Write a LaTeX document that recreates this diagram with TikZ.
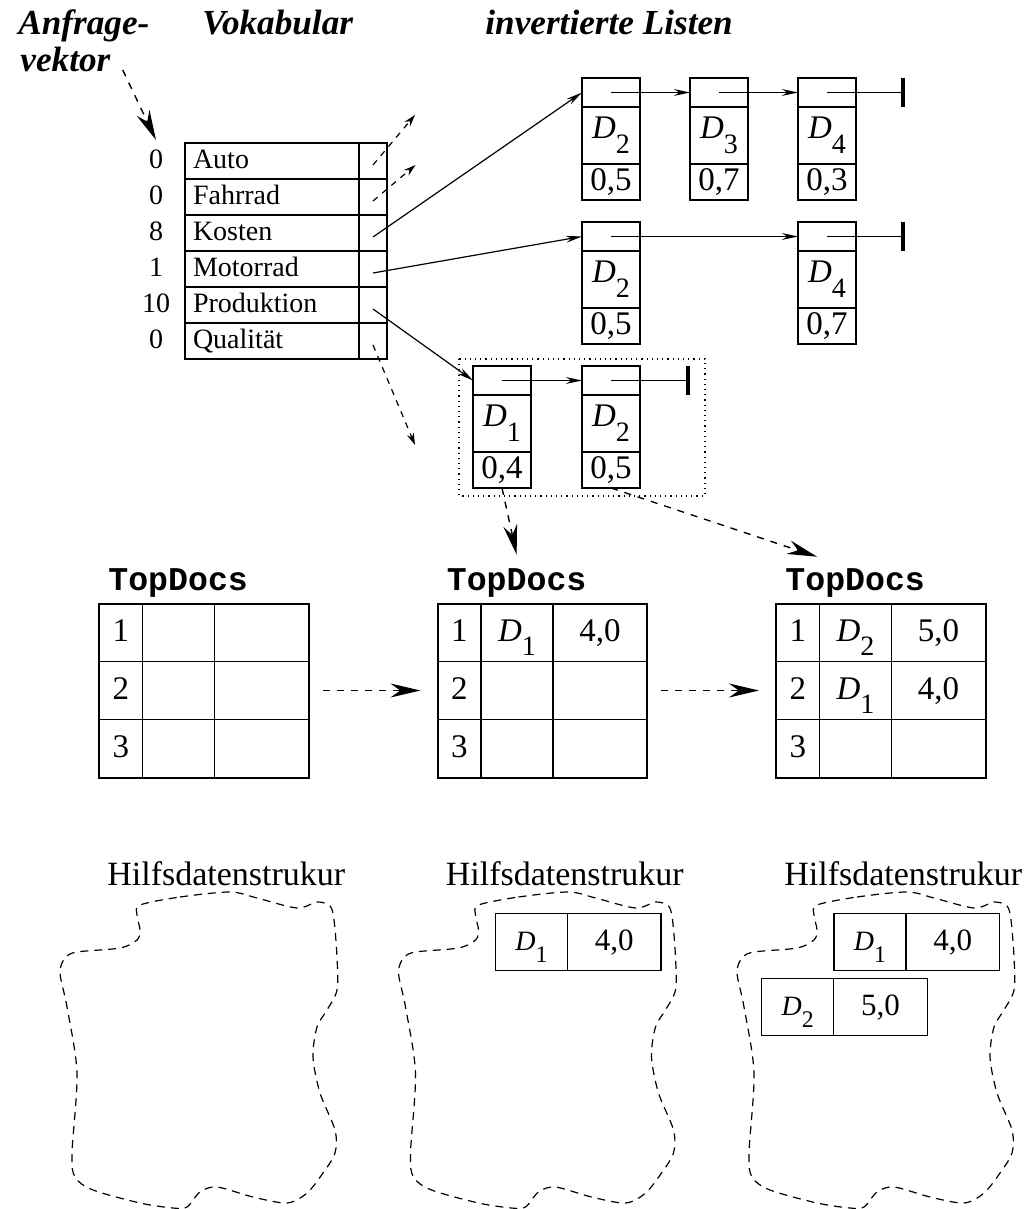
\documentclass[tikz,border=0pt]{standalone}
\usepackage{fontspec,graphicx}
\setmainfont{Liberation Serif}
\setmonofont{Liberation Mono}
\usetikzlibrary{arrows.meta,positioning}
\newcommand\docid[1]{\textit{D}\raisebox{-.45em}{\scalebox{.85}{#1}}}
\newcommand\listnode[5]{%
  \node[ptrcell] (#1) at (#2+29,#3+14.5) {};
  \node[doccell,below=0pt of #1] (#1d) {\docid{#4}};
  \node[wcell,below=0pt of #1d] (#1w) {#5};}
\tikzset{
  cell/.style={draw,line width=.7pt,inner sep=0pt,outer sep=0pt},
  vcell/.style={cell,minimum height=18pt,text height=.75em,text depth=0pt,font=\fontsize{14}{16}\selectfont},
  vnum/.style={vcell,draw=none},
  ptrcell/.style={cell,minimum width=29pt,minimum height=14.5pt},
  doccell/.style={cell,minimum width=29pt,minimum height=28.5pt,font=\fontsize{16.5}{18}\selectfont},
  wcell/.style={doccell,minimum height=18pt},
  tcell/.style={cell,line width=.6pt,minimum height=29pt,anchor=north west},
  ttext/.style={inner sep=0pt,text height=8.5pt,text depth=0pt,font=\fontsize{16.5}{18}\selectfont},
  hcell/.style={cell,minimum height=28.7pt,anchor=north west,text height=8.3pt,text depth=0pt,font=\fontsize{15.5}{18}\selectfont},
  title/.style={inner sep=0pt,anchor=base west,font=\fontsize{17.6}{20}\selectfont\bfseries\itshape},
  tdlabel/.style={inner sep=0pt,anchor=base west,font=\fontsize{16.6}{18}\selectfont\ttfamily\bfseries},
  hlabel/.style={inner sep=0pt,anchor=base,font=\fontsize{17}{20}\selectfont},
  link/.style={line width=.6pt,-{Stealth[length=8pt,width=3.4pt]}},
  nil/.style={line width=.6pt,-{Bar[width=14.5pt,line width=2pt]}},
  stub/.style={line width=.6pt,dash pattern=on 3pt off 3pt,-{Stealth[length=6pt,width=3.6pt]}},
  flow/.style={line width=.7pt,dash pattern=on 3.5pt off 3.5pt,-{Stealth[length=15pt,width=7pt]}},
  blob/.style={line width=.6pt,dash pattern=on 4pt off 3pt}
}
\begin{document}
\begin{tikzpicture}[x=.5pt,y=-.5pt]
\useasboundingbox (0,0) rectangle (1032,1209);
\node[title] (anf) at (18,35) {Anfrage-};
\node[title] (vek) at (20,72) {vektor};
\node[title] (vok) at (202,35) {Vokabular};
\node[title] (inv) at (485,35) {invertierte Listen};
\foreach \val/\word [count=\i] in {0/Auto,0/Fahrrad,8/Kosten,1/Motorrad,10/Produktion,0/Qualität}{
  \pgfmathsetmacro{\y}{125+36*\i}
  \node[vcell,minimum width=87pt,text width=79pt,align=left] (w\i) at (272,\y) {\word};
  \node[vcell,minimum width=14pt] (p\i) at (373,\y) {};
  \node[vnum] (n\i) at (156,\y) {\val};}
\listnode{k1}{582}{78}{2}{0,5}
\listnode{k2}{690}{78}{3}{0,7}
\listnode{k3}{798}{78}{4}{0,3}
\listnode{m1}{582}{222}{2}{0,5}
\listnode{m2}{798}{222}{4}{0,7}
\listnode{r1}{473}{366}{1}{0,4}
\listnode{r2}{582}{366}{2}{0,5}
\coordinate (kend) at (905,92.5);
\coordinate (mend) at (905,236.5);
\coordinate (rend) at (690,380.5);
\draw[link] (k1.center) -- (k2.west);
\draw[link] (k2.center) -- (k3.west);
\draw[nil] (k3.center) -- (kend);
\draw[link] (m1.center) -- (m2.west);
\draw[nil] (m2.center) -- (mend);
\draw[link] (r1.center) -- (r2.west);
\draw[nil] (r2.center) -- (rend);
\draw[dotted,line width=.6pt] (459,359) rectangle (705,496);
\draw[link] ([yshift=-2pt]p3.center) -- (k1.west);
\draw[link] ([yshift=-2pt]p4.center) -- (m1.west);
\draw[link] ([yshift=-2pt]p5.center) -- (r1.west);
\coordinate (a1) at (415,115);
\coordinate (a2) at (415.5,165);
\coordinate (a6) at (415,445);
\draw[stub] ([yshift=-2pt]p1.center) -- (a1);
\draw[stub] ([yshift=-2pt]p2.center) -- (a2);
\draw[stub] ([yshift=-2pt]p6.center) -- (a6);
\draw[flow] ([shift={(6pt,1pt)}]vek.base east) -- ([yshift=1.5pt]n1.north);
\foreach \t in {1,2,3}{
  \pgfmathsetmacro{\x}{99+338.5*(\t-1)}
  \node[tdlabel] (lab\t) at (\x+9,590) {TopDocs};
  \foreach \r in {1,2,3}{
    \pgfmathsetmacro{\y}{603.5+58*(\r-1)}
    \node[tcell,minimum width=21.75pt] (t\t-\r-1) at (\x,\y) {};
    \node[tcell,minimum width=36pt] (t\t-\r-2) at (t\t-\r-1.north east) {};
    \node[tcell,minimum width=47pt] (t\t-\r-3) at (t\t-\r-2.north east) {};
    \node[ttext] (num\t-\r) at (t\t-\r-1) {\r};}
  \draw[line width=1pt] (t\t-1-1.north west) rectangle (t\t-3-3.south east);}
\node[ttext] (c2a) at (t2-1-2) {\docid{1}};
\node[ttext] (c2b) at (t2-1-3) {4,0};
\node[ttext] (c3a) at (t3-1-2) {\docid{2}};
\node[ttext] (c3b) at (t3-1-3) {5,0};
\node[ttext] (c3c) at (t3-2-2) {\docid{1}};
\node[ttext] (c3d) at (t3-2-3) {4,0};
\draw[flow] ([xshift=7pt]t1-2-3.east) -- ([xshift=-8.5pt]t2-2-1.west);
\draw[flow] ([xshift=7pt]t2-2-3.east) -- ([xshift=-8.5pt]t3-2-1.west);
\draw[flow] (r1w.south) -- ([yshift=6.5pt]lab2.north);
\draw[flow] (r2w.south) -- ([shift={(-19pt,5.5pt)}]lab3.north);
\foreach \t in {0,1,2}{
  \pgfmathsetmacro{\x}{338.5*\t}
  \node[hlabel] (hl\t) at (\x+226.3,885) {Hilfsdatenstrukur};
  \draw[blob,shift={(\x,0)}] plot[smooth cycle] coordinates {
    (140,905) (180,897) (230,892) (257,898) (297,908) (317,902) (330,906)
    (334,920) (337,957) (337,990) (327,1010) (317,1027) (313,1057) (320,1093)
    (335,1130) (335,1153) (323,1173) (307,1193) (287,1203) (253,1197) (217,1187)
    (200,1192) (187,1207) (173,1208) (140,1203) (93,1190) (75,1177) (72,1153)
    (77,1073) (67,1007) (60,973) (65,958) (77,952) (120,948) (137,940) (140,930) (137,915)};}
\node[hcell,minimum width=36pt,font=\fontsize{14}{16}\selectfont] (h1d) at (495.5,913.3) {\docid{1}};
\node[hcell,minimum width=46.75pt] (h1w) at (h1d.north east) {4,0};
\node[hcell,minimum width=36pt,font=\fontsize{14}{16}\selectfont] (h2d) at (834,913.3) {\docid{1}};
\node[hcell,minimum width=46.75pt] (h2w) at (h2d.north east) {4,0};
\node[hcell,minimum width=36pt,font=\fontsize{14}{16}\selectfont] (h3d) at (761.7,978.3) {\docid{2}};
\node[hcell,minimum width=46.75pt] (h3w) at (h3d.north east) {5,0};
\end{tikzpicture}
\end{document}
